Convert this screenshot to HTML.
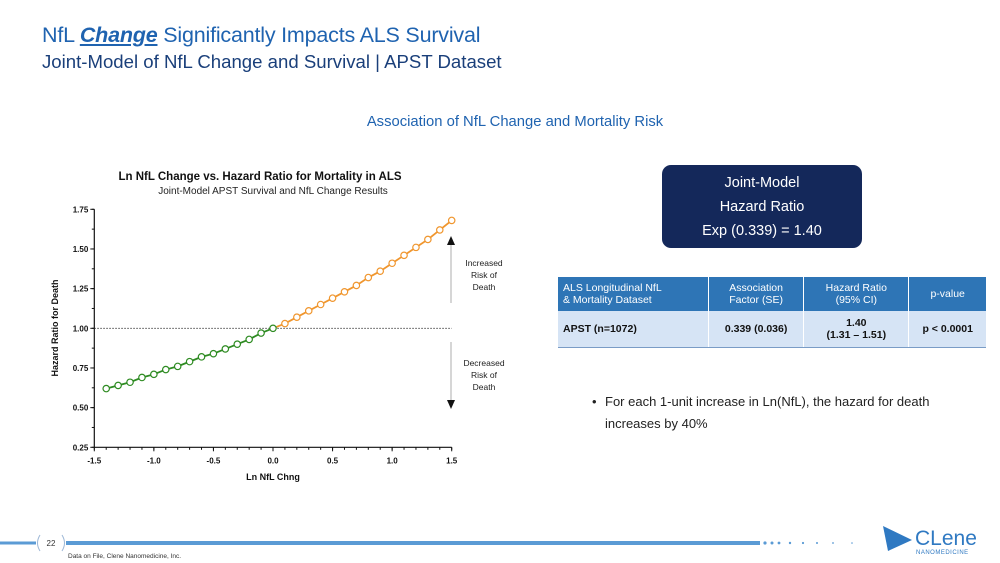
<!DOCTYPE html>
<html><head><meta charset="utf-8">
<style>
body{margin:0;width:1000px;height:563px;overflow:hidden;background:#fff;font-family:"Liberation Sans",sans-serif;position:relative}
.abs{position:absolute}
.t1{left:42px;top:23px;font-size:21.5px;color:#1f63b0;letter-spacing:-0.2px}
.t2{left:42px;top:51px;font-size:18.6px;color:#1a3f7a}
.hd{left:0;width:1030px;top:114px;text-align:center;font-size:14.8px;color:#1f63b0}
.box{left:662px;top:165px;width:200px;height:83px;background:#14285a;border-radius:9px;color:#fff;text-align:center;font-size:14.5px;line-height:24px;padding-top:6px;box-sizing:border-box}
table{position:absolute;left:558px;top:277px;width:428px;border-collapse:collapse;font-size:10.5px}
th{background:#2e75b6;color:#fff;font-weight:normal;height:34px;padding:0 5px;border-right:1px solid #fff}
td{background:#d6e4f5;color:#111;font-weight:bold;height:34px;border-right:1px solid #fff;border-bottom:1px solid #7a9cc6;text-align:center}
</style></head><body>
<div class="abs t1">NfL <b><i><u>Change</u></i></b> Significantly Impacts ALS Survival</div>
<div class="abs t2">Joint-Model of NfL Change and Survival | APST Dataset</div>
<div class="abs hd">Association of NfL Change and Mortality Risk</div>
<div class="abs box">Joint-Model<br>Hazard Ratio<br>Exp (0.339) = 1.40</div>
<table>
<tr><th style="text-align:left;width:140px">ALS Longitudinal NfL<br>&amp; Mortality Dataset</th><th>Association<br>Factor (SE)</th><th>Hazard Ratio<br>(95% CI)</th><th style="border-right:none">p-value</th></tr>
<tr><td style="text-align:left;padding-left:5px">APST (n=1072)</td><td>0.339 (0.036)</td><td>1.40<br>(1.31 – 1.51)</td><td style="border-right:none">p &lt; 0.0001</td></tr>
</table>
<div class="abs" style="left:592px;top:391px;font-size:13px;color:#222;line-height:22px"><span style="position:absolute;left:0">•</span><div style="padding-left:13px">For each 1-unit increase in Ln(NfL), the hazard for death<br>increases by 40%</div></div>

<svg class="abs" style="left:0;top:0" width="1000" height="563" id="chart">
<text x="260" y="180" text-anchor="middle" font-size="11.5" font-weight="bold" fill="#111">Ln NfL Change vs. Hazard Ratio for Mortality in ALS</text>
<text x="273" y="194" text-anchor="middle" font-size="10" fill="#222">Joint-Model APST Survival and NfL Change Results</text>
<text x="58" y="328" transform="rotate(-90 58 328)" text-anchor="middle" font-size="9" font-weight="bold" fill="#111">Hazard Ratio for Death</text>
<text x="273" y="480" text-anchor="middle" font-size="9" font-weight="bold" fill="#111">Ln NfL Chng</text>
<g id="axes"></g><g id="marks"></g>
<line x1="451" y1="240" x2="451" y2="303" stroke="#999" stroke-width="0.8"/>
<polygon points="451,236 447,245 455,245" fill="#111"/>
<line x1="451" y1="342" x2="451" y2="405" stroke="#999" stroke-width="0.8"/>
<polygon points="451,409 447,400 455,400" fill="#111"/>
<text x="484" y="266" text-anchor="middle" font-size="8.5" fill="#222">Increased</text>
<text x="484" y="278" text-anchor="middle" font-size="8.5" fill="#222">Risk of</text>
<text x="484" y="290" text-anchor="middle" font-size="8.5" fill="#222">Death</text>
<text x="484" y="366" text-anchor="middle" font-size="8.5" fill="#222">Decreased</text>
<text x="484" y="378" text-anchor="middle" font-size="8.5" fill="#222">Risk of</text>
<text x="484" y="390" text-anchor="middle" font-size="8.5" fill="#222">Death</text>
<path d="M40 535 Q35 543 40 551" stroke="#9db7d6" fill="none"/>
<path d="M62 535 Q67 543 62 551" stroke="#9db7d6" fill="none"/>
<line x1="0" y1="543" x2="36" y2="543" stroke="#5b9bd5" stroke-width="3"/>
<line x1="66" y1="543" x2="760" y2="543" stroke="#5b9bd5" stroke-width="4"/>
<text x="51" y="546" text-anchor="middle" font-size="8" fill="#333">22</text>
<text x="68" y="558" font-size="6.5" fill="#333">Data on File, Clene Nanomedicine, Inc.</text>
<g fill="#5b9bd5"><circle cx="765" cy="543" r="1.6"/><circle cx="772" cy="543" r="1.5"/><circle cx="779" cy="543" r="1.4"/><circle cx="790" cy="543" r="1.2"/><circle cx="803" cy="543" r="1.1"/><circle cx="817" cy="543" r="1"/><circle cx="833" cy="543" r="0.9"/><circle cx="852" cy="543" r="0.8"/></g>
<polygon points="883,526 912,540 888,551" fill="#2f79c2"/>
<text x="915" y="545" font-size="21" fill="#2f79c2">CLene</text>
<text x="916" y="554" font-size="6" fill="#2f79c2" letter-spacing="0.5">NANOMEDICINE</text>
</svg>
<script>
const xValues=[-1.4,-1.3,-1.2,-1.1,-1.0,-0.9,-0.8,-0.7,-0.6,-0.5,-0.4,-0.3,-0.2,-0.1,0.0,0.1,0.2,0.3,0.4,0.5,0.6,0.7,0.8,0.9,1.0,1.1,1.2,1.3,1.4,1.5];
const hazardValues=[0.62,0.64,0.66,0.69,0.71,0.74,0.76,0.79,0.82,0.84,0.87,0.90,0.93,0.97,1.00,1.03,1.07,1.11,1.15,1.19,1.23,1.27,1.32,1.36,1.41,1.46,1.51,1.56,1.62,1.68];
const xTicks=[-1.5,-1.0,-0.5,0.0,0.5,1.0,1.5];
const yTicks=[0.25,0.50,0.75,1.00,1.25,1.50,1.75];
const NS='http://www.w3.org/2000/svg';
const X=v=>94.3+(v+1.5)/3*357.4;
const Y=v=>447.3-(v-0.25)/1.5*238;
function mk(t,a,p){const e=document.createElementNS(NS,t);for(const k in a)e.setAttribute(k,a[k]);p.appendChild(e);return e;}
const ax=document.getElementById('axes'),mg=document.getElementById('marks');
mk('line',{x1:X(-1.5),y1:Y(0.25),x2:X(1.5),y2:Y(0.25),stroke:'#111','stroke-width':1.2},ax);
mk('line',{x1:X(-1.5),y1:Y(0.25),x2:X(-1.5),y2:Y(1.75),stroke:'#111','stroke-width':1.2},ax);
xTicks.forEach(v=>{mk('line',{x1:X(v),y1:Y(0.25),x2:X(v),y2:Y(0.25)+4,stroke:'#111'},ax);
const t=mk('text',{x:X(v),y:Y(0.25)+16,'text-anchor':'middle','font-size':8,'font-weight':'bold',fill:'#111'},ax);t.textContent=v.toFixed(1);});
for(let v=-1.5;v<=1.5001;v+=0.1)mk('line',{x1:X(v),y1:Y(0.25),x2:X(v),y2:Y(0.25)+2.5,stroke:'#111'},ax);
yTicks.forEach(v=>{mk('line',{x1:X(-1.5)-4,y1:Y(v),x2:X(-1.5),y2:Y(v),stroke:'#111'},ax);
const t=mk('text',{x:X(-1.5)-6,y:Y(v)+3,'text-anchor':'end','font-size':8,'font-weight':'bold',fill:'#111'},ax);t.textContent=v.toFixed(2);});
for(let v=0.25;v<=1.75;v+=0.125)mk('line',{x1:X(-1.5)-2.5,y1:Y(v),x2:X(-1.5),y2:Y(v),stroke:'#111'},ax);
mk('line',{x1:X(-1.5),y1:Y(1),x2:X(1.5),y2:Y(1),stroke:'#333','stroke-dasharray':'1.5,1.5','stroke-width':0.8},ax);
const gp=[],op=[];
xValues.forEach((x,i)=>{const p=X(x)+','+Y(hazardValues[i]);if(x<=0)gp.push(p);if(x>=0)op.push(p);});
const l1=mk('polyline',{points:gp.join(' '),fill:'none',stroke:'#2e8b22','stroke-width':1.8},mg);


const l2=mk('polyline',{points:op.join(' '),fill:'none',stroke:'#f0962e','stroke-width':1.8},mg);


xValues.forEach((x,i)=>{const c=mk('circle',{cx:X(x),cy:Y(hazardValues[i]),r:3.2,fill:'#fff',stroke:x<=0?'#2e8b22':'#f0962e','stroke-width':1.2},mg);

});
</script>
</body></html>
